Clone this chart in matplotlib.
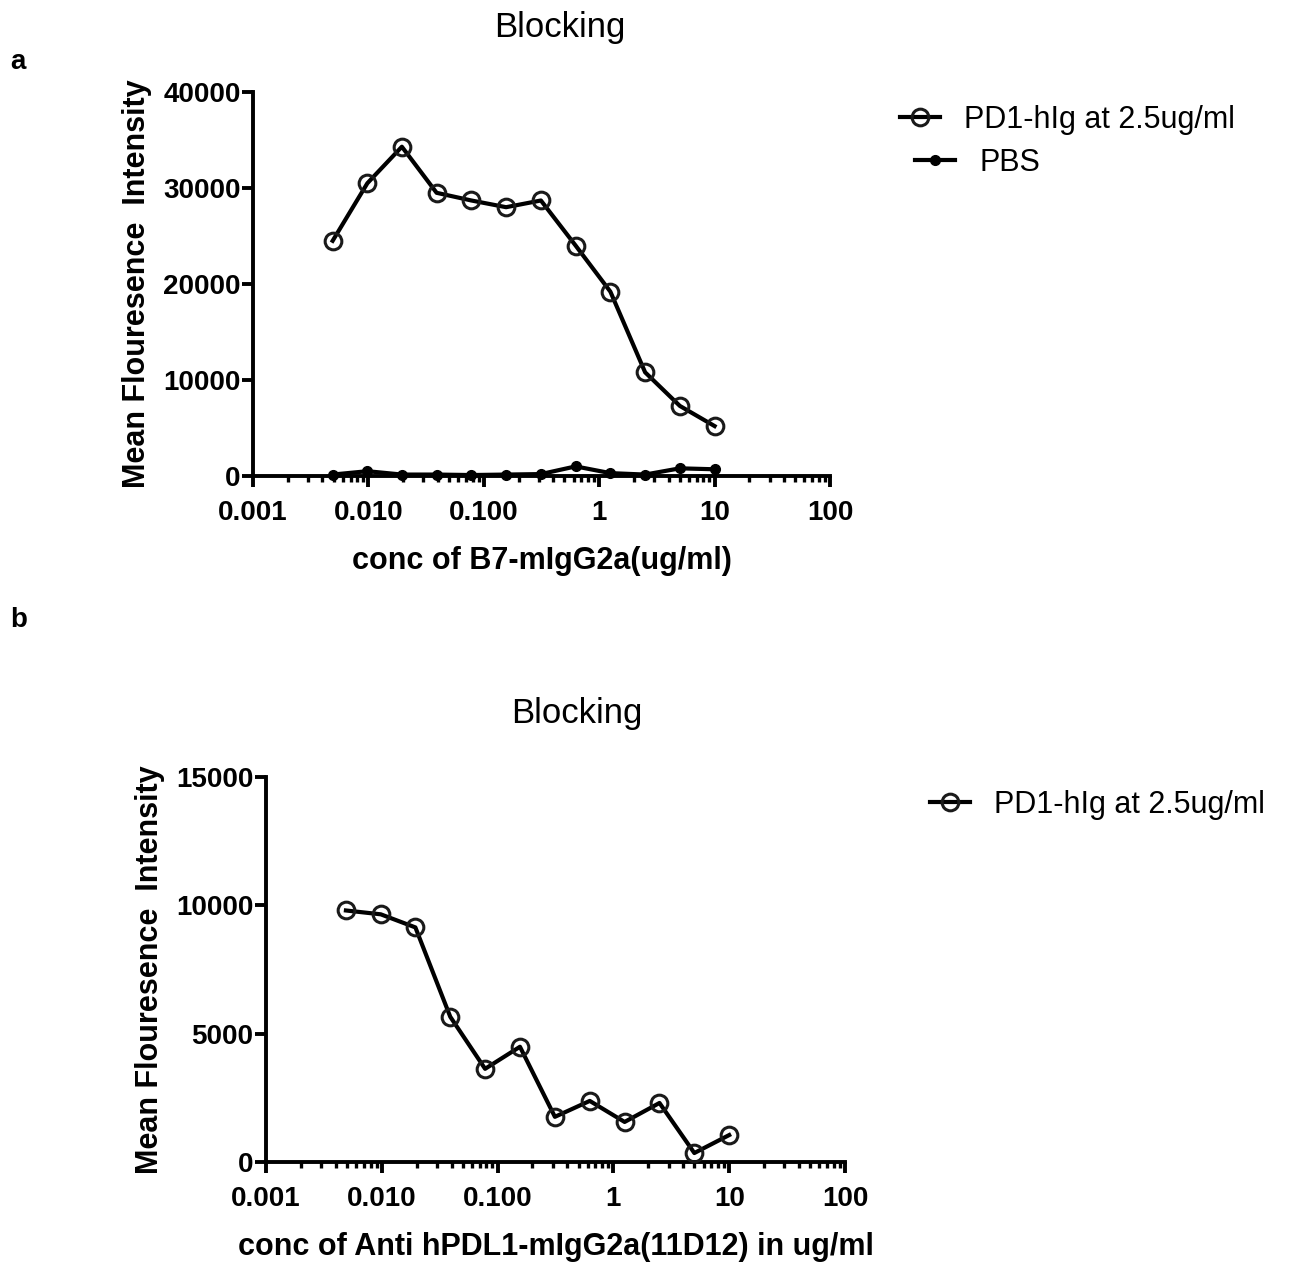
import matplotlib
matplotlib.use('Agg')
import matplotlib.pyplot as plt
from matplotlib.ticker import LogLocator, FixedLocator, NullFormatter

plt.rcParams['font.family'] = ['Liberation Sans', 'DejaVu Sans']

# concentrations (ug/ml), twofold dilution series
conc = [0.0049, 0.0098, 0.0195, 0.039, 0.078, 0.156, 0.3125, 0.625, 1.25, 2.5, 5, 10]

# panel a: B7-mIgG2a blocking
pd1_a = [24500, 30500, 34300, 29500, 28700, 28000, 28700, 24000, 19200, 10800, 7300, 5200]
pbs_a = [150, 500, 150, 150, 100, 150, 200, 1000, 300, 150, 800, 700]

# panel b: anti hPDL1 (11D12) blocking
pd1_b = [9800, 9650, 9140, 5660, 3630, 4490, 1760, 2380, 1560, 2300, 350, 1050]

xticks = [0.001, 0.01, 0.1, 1, 10, 100]
xticklabels = ['0.001', '0.010', '0.100', '1', '10', '100']
yticks_a = [0, 10000, 20000, 30000, 40000]
yticks_b = [0, 5000, 10000, 15000]

fig = plt.figure(figsize=(12.9, 12.65), dpi=100)
ax1 = fig.add_axes([253 / 1290, 1 - 476 / 1265, (830 - 253) / 1290, (476 - 92) / 1265])
ax2 = fig.add_axes([266 / 1290, 1 - 1162 / 1265, (845 - 266) / 1290, (1162 - 777) / 1265])


def style_axes(ax, yticks, xlabel):
    ax.set_xscale('log')
    ax.set_xlim(0.001, 100)
    ax.set_ylim(0, yticks[-1])
    ax.set_xticks(xticks)
    ax.set_xticklabels(xticklabels)
    ax.xaxis.set_minor_locator(LogLocator(base=10, subs=range(2, 10), numticks=20))
    ax.xaxis.set_minor_formatter(NullFormatter())
    ax.yaxis.set_major_locator(FixedLocator(yticks))
    ax.set_yticklabels([str(t) for t in yticks])
    for side in ['top', 'right']:
        ax.spines[side].set_visible(False)
    for side in ['left', 'bottom']:
        ax.spines[side].set_linewidth(2.8)
    ax.tick_params(axis='both', which='major', direction='out', length=8, width=2.8,
                   labelsize=20)
    ax.tick_params(axis='x', which='minor', direction='out', length=4.5, width=2.4)
    ax.tick_params(axis='x', which='major', pad=9)
    ax.tick_params(axis='y', which='major', pad=1)
    for lab in ax.get_xticklabels() + ax.get_yticklabels():
        lab.set_fontweight('bold')
    ax.set_xlabel(xlabel, fontsize=22, fontweight='bold', labelpad=15)
    ax.set_ylabel('Mean Flouresence  Intensity', fontsize=22, fontweight='bold', labelpad=8)
    ax.set_facecolor('none')


open_kw = dict(color='black', lw=3, marker='o', markersize=12, markerfacecolor='none',
               markeredgewidth=2.2, markeredgecolor='#1a1a1a', clip_on=False)
fill_kw = dict(color='black', lw=3, marker='o', markersize=7, markerfacecolor='black',
               markeredgecolor='black', clip_on=False)

# panel a
l1, = ax1.plot(conc, pd1_a, label='PD1-hIg at 2.5ug/ml', zorder=3, **open_kw)
l2, = ax1.plot(conc, pbs_a, label='PBS', zorder=4, **fill_kw)
style_axes(ax1, yticks_a, 'conc of B7-mIgG2a(ug/ml)')

leg_kw = dict(loc='center left', frameon=False, fontsize=22, borderpad=0, borderaxespad=0,
              handlelength=1.3, handletextpad=0.8, bbox_transform=fig.transFigure)
leg1 = ax1.legend(handles=[l1], bbox_to_anchor=(900 / 1290, 1 - 120 / 1265), **leg_kw)
ax1.add_artist(leg1)
ax1.legend(handles=[l2], bbox_to_anchor=(915 / 1290, 1 - 163 / 1265), **leg_kw)

# panel b
l3, = ax2.plot(conc, pd1_b, label='PD1-hIg at 2.5ug/ml', zorder=3, **open_kw)
style_axes(ax2, yticks_b, 'conc of Anti hPDL1-mIgG2a(11D12) in ug/ml')
ax2.legend(handles=[l3], bbox_to_anchor=(930 / 1290, 1 - 805 / 1265), **leg_kw)

# titles and panel letters
fig.text(560 / 1290, 1 - 28 / 1265, 'Blocking', fontsize=25, ha='center', va='center')
fig.text(577 / 1290, 1 - 714 / 1265, 'Blocking', fontsize=25, ha='center', va='center')
fig.text(10 / 1290, 1 - 62 / 1265, 'a', fontsize=20, fontweight='bold', va='center')
fig.text(10 / 1290, 1 - 620 / 1265, 'b', fontsize=20, fontweight='bold', va='center')

fig.savefig('out.png', dpi=100)
